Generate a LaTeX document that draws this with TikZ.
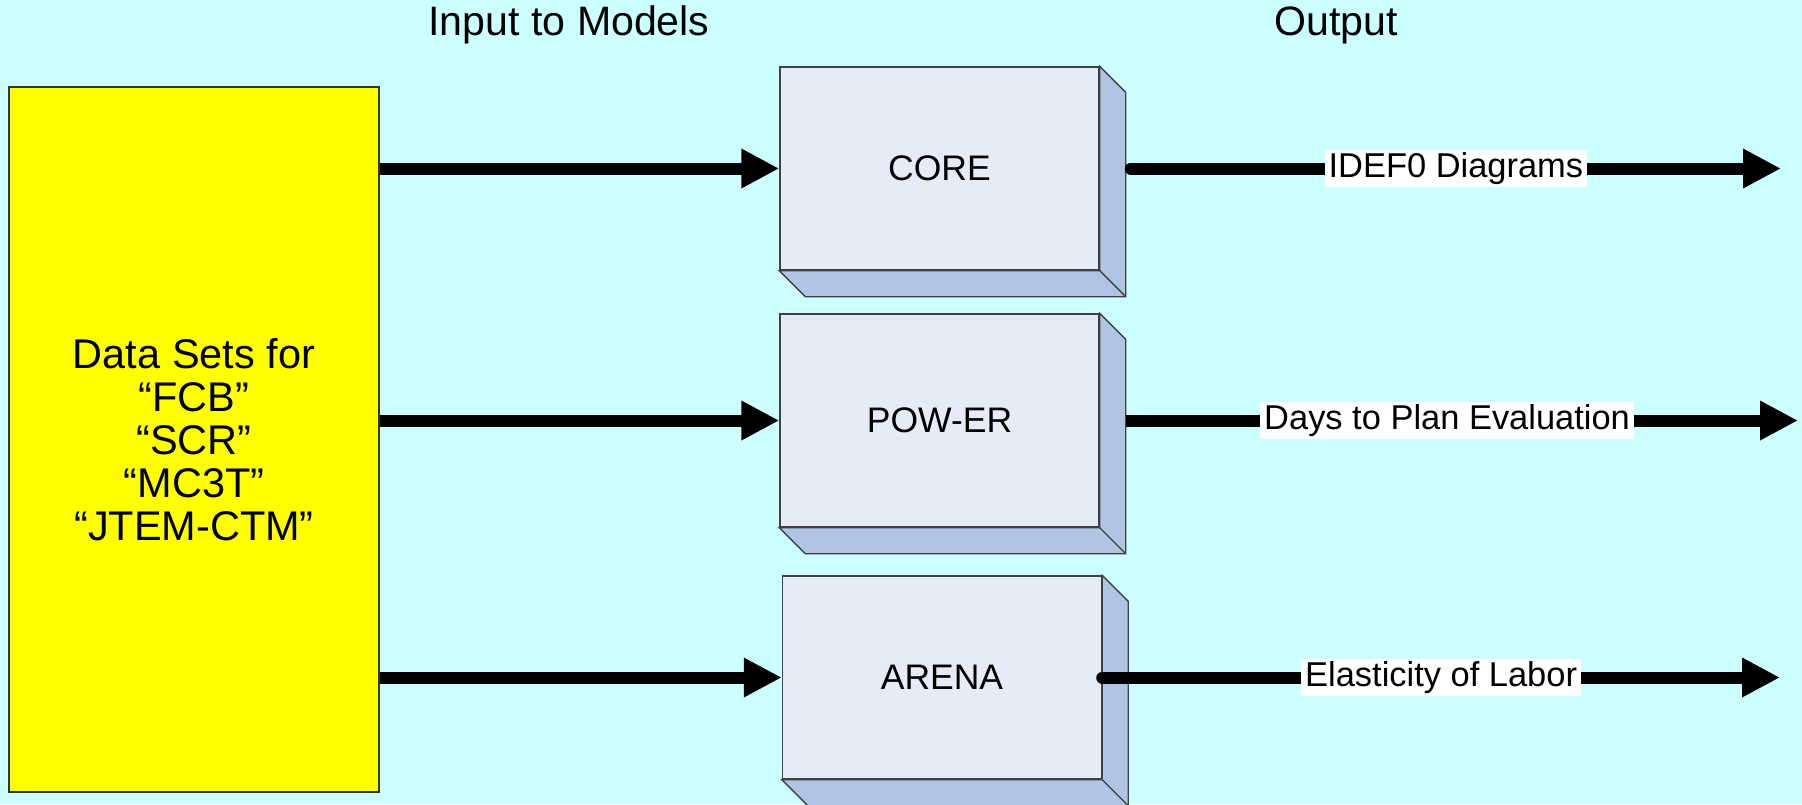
\documentclass[tikz,border=0pt]{standalone}
\usepackage{fontspec}
\setmainfont{Liberation Sans}
\usepackage{xcolor}
\usepackage{tikz}
\usetikzlibrary{arrows.meta}

\definecolor{bgcyan}{RGB}{204,255,255}
\definecolor{facefront}{RGB}{230,236,247}
\definecolor{faceside}{RGB}{176,196,228}
\definecolor{datayellow}{RGB}{255,255,0}

\tikzstyle{model} = [
    rectangle,
    fill=facefront,
    draw=black!75,
    minimum width=3.19cm,
    minimum height=2.03cm,
    font=\fontsize{10.1}{12}\selectfont
    ]
\tikzstyle{dataset} = [
    rectangle,
    fill=datayellow,
    draw=black!80,
    minimum width=3.7cm,
    minimum height=7.05cm,
    align=center,
    font=\fontsize{11.8}{12.2}\selectfont
    ]
\tikzstyle{flow} = [line width=0.12cm, -{Triangle[length=0.38cm,width=0.37cm]}]
\tikzstyle{outlabel} = [fill=white, inner xsep=0.04cm, inner ysep=0.02cm, font=\fontsize{9.8}{11}\selectfont]
\tikzstyle{heading} = [font=\fontsize{11.7}{13}\selectfont]

\begin{document}
\begin{tikzpicture}
        \fill[bgcyan] (0,0) rectangle (18.02,8.04);
        \useasboundingbox (0,0) rectangle (18.02,8.04);

        \node (inhead) [heading] at (5.69,7.79) {Input to Models};
        \node (outhead) [heading] at (13.36,7.79) {Output};

        \node (data) [dataset] at (1.94,3.645) {Data Sets for\\“FCB”\\“SCR”\\“MC3T”\\“JTEM-CTM”};

        \node (core) [model] at (9.395,6.355) {CORE};
        \node (power) [model, minimum height=2.13cm] at (9.395,3.835) {POW-ER};
        \node (arena) [model] at (9.42,1.265) {ARENA};

        % box sides
        \foreach \m in {core,power,arena} {
            \filldraw[fill=faceside, draw=black!75] (\m.north east) -- ++(0.26,-0.26)
                |- ([shift={(0.26,-0.26)}]\m.south west) -- (\m.south west) -- (\m.south east) -- cycle;
            \draw[black!75] (\m.south east) -- ++(0.26,-0.26);
        }

        % Lines in
        \draw[flow] (data.east |- core.west) -- (core.west);
        \draw[flow] (data.east |- power.west) -- (power.west);
        \draw[flow] (data.east |- arena.west) -- (arena.west);

        % Lines out
        \coordinate (coreout) at (17.81,6.355);
        \coordinate (powerout) at (17.98,3.835);
        \coordinate (arenaout) at (17.80,1.265);
        \draw[flow, line cap=round] ([xshift=0.31cm]core.east) -- node[outlabel] {IDEF0 Diagrams} (coreout);
        \draw[flow] ([xshift=0.26cm]power.east) -- node[outlabel, pos=0.478] {Days to Plan Evaluation} (powerout);
        \draw[flow, line cap=round] (arena.east) -- node[outlabel] {Elasticity of Labor} (arenaout);

    \end{tikzpicture}
\end{document}
